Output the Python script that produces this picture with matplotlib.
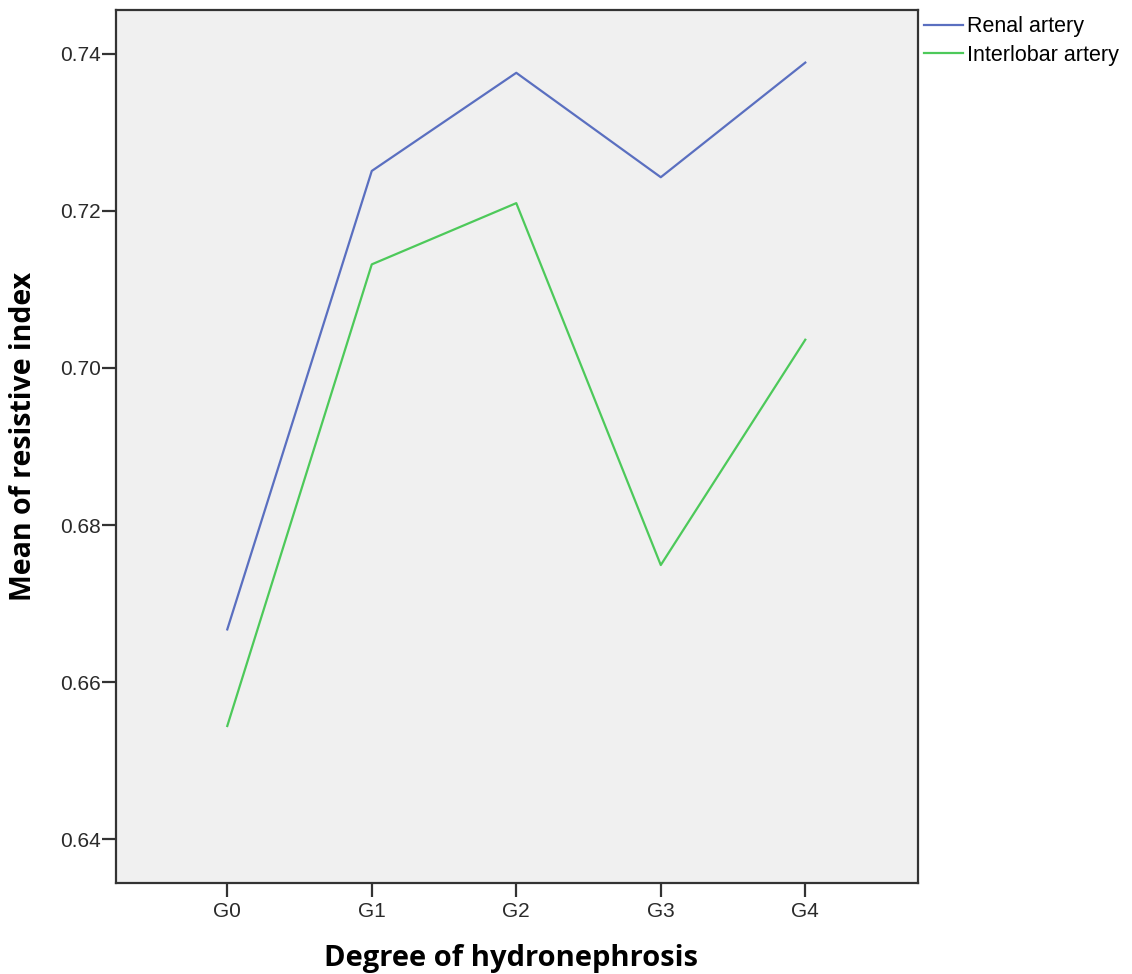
import matplotlib
matplotlib.use('Agg')
import matplotlib.pyplot as plt

grades = ["G0", "G1", "G2", "G3", "G4"]
renal = [0.6667, 0.7251, 0.7376, 0.7243, 0.7389]
interlobar = [0.6544, 0.7132, 0.7210, 0.6749, 0.7036]
yticks = [0.64, 0.66, 0.68, 0.70, 0.72, 0.74]

fig = plt.figure(figsize=(11.32, 9.74), dpi=100)
ax = fig.add_axes([116 / 1132, 1 - 883 / 974, 802 / 1132, 873 / 974])
ax.set_facecolor('#f0f0f0')

x = list(range(len(grades)))
ax.plot(x, renal, color='#5a6fc0', lw=1.6, label='Renal artery')
ax.plot(x, interlobar, color='#4dc95a', lw=1.6, label='Interlobar artery')

ax.set_xlim(-0.77, 4.78)
ax.set_ylim(0.6344, 0.7456)
ax.set_xticks(x)
ax.set_xticklabels(grades)
ax.set_yticks(yticks)
ax.set_yticklabels(['%.2f' % v for v in yticks])
ax.tick_params(labelsize=15, length=10, width=1.6, color='#333333', labelcolor='#2a2a2a')
ax.tick_params(axis='x', pad=4)
ax.tick_params(axis='y', pad=1)
for lab in ax.get_xticklabels() + ax.get_yticklabels():
    lab.set_family('Liberation Sans')
for s in ax.spines.values():
    s.set_color('#333333')
    s.set_linewidth(1.6)

ax.set_xlabel('Degree of hydronephrosis', fontsize=21, fontweight='bold',
              family='Open Sans', va='center')
ax.set_ylabel('Mean of resistive index', fontsize=20.5, fontweight='bold',
              family='Open Sans', va='center')
ax.xaxis.set_label_coords(0.493, -0.086)
ax.yaxis.set_label_coords(-0.115, 0.512)

ax.legend(loc='upper left', bbox_to_anchor=(1.007, 0.993), frameon=False,
          prop={'family': 'Liberation Sans', 'size': 15.5}, handlelength=1.85,
          handletextpad=0.15, labelspacing=0.35, borderaxespad=0, borderpad=0)

fig.savefig('out.png', dpi=100)
